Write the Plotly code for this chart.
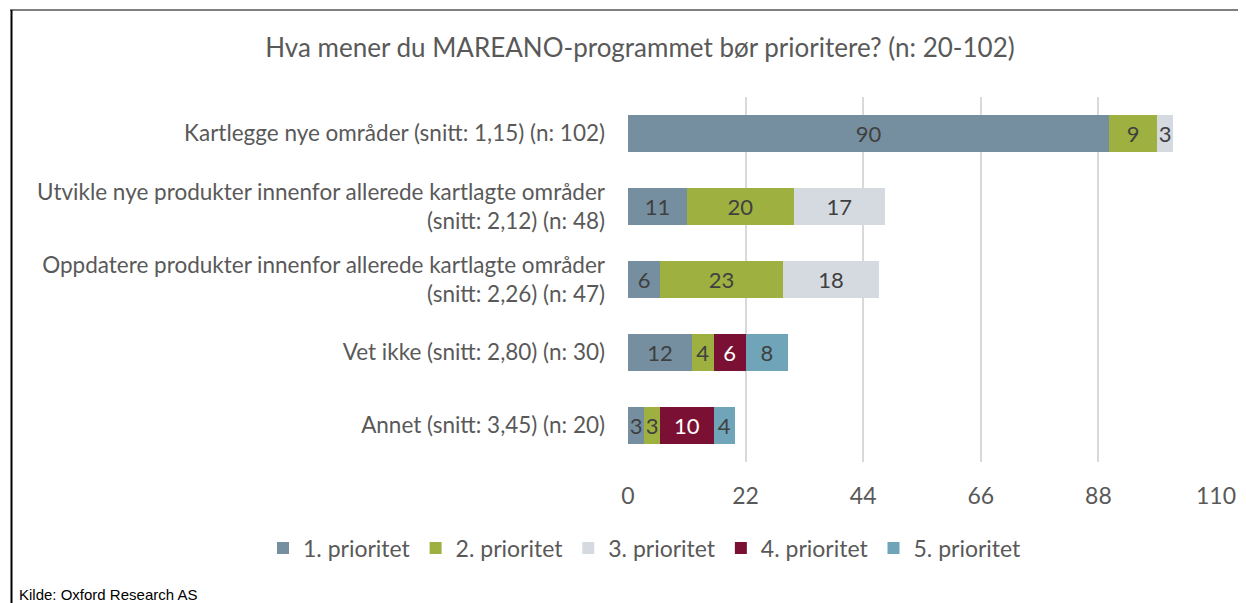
import plotly.graph_objects as go

categories = [
    "Kartlegge nye områder (snitt: 1,15) (n: 102)",
    "Utvikle nye produkter innenfor allerede kartlagte områder<br>(snitt: 2,12) (n: 48)",
    "Oppdatere produkter innenfor allerede kartlagte områder<br>(snitt: 2,26) (n: 47)",
    "Vet ikke (snitt: 2,80) (n: 30)",
    "Annet (snitt: 3,45) (n: 20)",
]
series_names = ["1. prioritet", "2. prioritet", "3. prioritet", "4. prioritet", "5. prioritet"]
p1 = [90, 11, 6, 12, 3]
p2 = [9, 20, 23, 4, 3]
p3 = [3, 17, 18, 0, 0]
p4 = [0, 0, 0, 6, 10]
p5 = [0, 0, 0, 8, 4]
tick_vals = [0, 22, 44, 66, 88, 110]

colors = ["#758FA0", "#9EB040", "#D4DAE0", "#7A1134", "#70A5B9"]
text_colors = ["#404040", "#404040", "#404040", "#FFFFFF", "#404040"]
FONT = "Lato"

fig = go.Figure()
for name, vals, col, tcol in zip(series_names, [p1, p2, p3, p4, p5], colors, text_colors):
    fig.add_trace(go.Bar(
        y=categories, x=vals, name=name, orientation="h",
        marker=dict(color=col, line=dict(width=0)),
        text=[str(v) if v else "" for v in vals],
        textposition="inside", insidetextanchor="middle",
        textfont=dict(color=tcol, size=22, family=FONT),
        hoverinfo="skip",
    ))

# figure is offset by the page's 8px body margin
W, H = 1238, 595
L, R, T, B = 620, 1208, 89, 454
def px(x):
    return (x - L) / (R - L)
def py(y):
    return (B - y) / (B - T)

fig.update_layout(
    width=W, height=H,
    barmode="stack", bargap=0.5,
    paper_bgcolor="white", plot_bgcolor="white",
    margin=dict(l=L, r=W - R, t=T, b=H - B, pad=0, autoexpand=False),
    title=dict(text="Hva mener du MAREANO-programmet bør prioritere? (n: 20-102)",
               xref="container", yref="container",
               x=632 / W, xanchor="center", y=1 - 40 / H, yanchor="middle",
               font=dict(family=FONT, size=26, color="#595959")),
    xaxis=dict(range=[0, 110], tickvals=tick_vals, showgrid=True, gridcolor="#D9D9D9",
               gridwidth=2, zeroline=False, showline=False, ticks="",
               ticklabelstandoff=18,
               tickfont=dict(family=FONT, size=23, color="#595959"),
               fixedrange=True),
    yaxis=dict(autorange="reversed", showgrid=False, zeroline=False, showline=False,
               ticks="", ticklabelstandoff=22,
               tickfont=dict(family=FONT, size=22.5, color="#595959")),
    legend=dict(orientation="h", x=px(255), xanchor="left", y=py(540), yanchor="middle",
                font=dict(family=FONT, size=23, color="#595959"),
                traceorder="normal", itemwidth=30),
    uniformtext=dict(mode="show", minsize=22),
    showlegend=True,
    shapes=[
        dict(type="line", xref="paper", yref="paper", x0=px(2), x1=px(W), y0=py(2), y1=py(2),
             line=dict(color="black", width=1)),
        dict(type="line", xref="paper", yref="paper", x0=px(3.5), x1=px(3.5), y0=py(2), y1=py(H),
             line=dict(color="black", width=2)),
    ],
    annotations=[
        dict(text="Kilde: Oxford Research AS", xref="paper", yref="paper", x=px(9), y=py(586),
             xanchor="left", yanchor="middle", showarrow=False,
             font=dict(family="Liberation Sans", size=15, color="black")),
    ],
)

fig.write_html("out.html")
